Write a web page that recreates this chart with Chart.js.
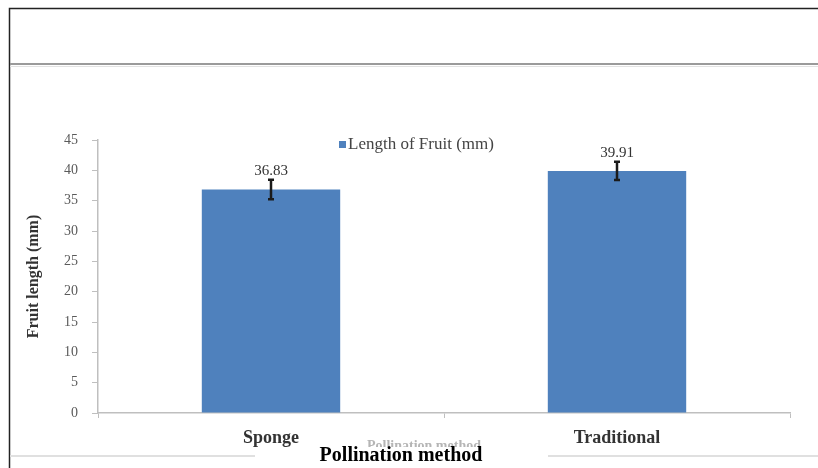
<!DOCTYPE html>
<html>
<head>
<meta charset="utf-8">
<script src="https://cdn.jsdelivr.net/npm/chart.js@4.4.1/dist/chart.umd.min.js"></script>
<style>
	body { margin: 0; background: #ffffff; }
	canvas { display: block; }
</style>
</head>
<body>
<canvas id="graph_length" width="818" height="468"></canvas>
<script>
// data
let methods = ["Sponge", "Traditional"];
let fruitLength = [36.83, 39.91];
let fruitError = [1.6, 1.5];
let yTicks = [0, 5, 10, 15, 20, 25, 30, 35, 40, 45];

const serif = "'Liberation Serif', 'Times New Roman', serif";

// frame, faint scan text, legend, error bars, labels
const framePlugin = {
	id: "framePlugin",
	beforeDraw: function(chart) {
		let ctx = chart.ctx;
		ctx.save();
		ctx.fillStyle = "#ffffff";
		ctx.fillRect(0, 0, chart.width, chart.height);

		// outer box
		ctx.strokeStyle = "#222222";
		ctx.lineWidth = 1.5;
		ctx.beginPath();
		ctx.moveTo(818, 8.5);
		ctx.lineTo(9.5, 8.5);
		ctx.lineTo(9.5, 468);
		ctx.stroke();

		// gray divider
		ctx.strokeStyle = "#9a9a9a";
		ctx.lineWidth = 2;
		ctx.beginPath();
		ctx.moveTo(10, 64);
		ctx.lineTo(818, 64);
		ctx.stroke();
		ctx.strokeStyle = "#e2e2e2";
		ctx.lineWidth = 1;
		ctx.beginPath();
		ctx.moveTo(10, 66.5);
		ctx.lineTo(818, 66.5);
		ctx.stroke();

		// faint text from the scan
		ctx.fillStyle = "#b5b5b5";
		ctx.font = "bold 14px " + serif;
		ctx.textAlign = "center";
		ctx.textBaseline = "middle";
		ctx.fillText("Pollination method", 424, 446);

		// bottom light line
		ctx.strokeStyle = "#e0e0e0";
		ctx.lineWidth = 2;
		ctx.beginPath();
		ctx.moveTo(10, 456);
		ctx.lineTo(818, 456);
		ctx.stroke();

		// white patch behind the axis title
		ctx.fillStyle = "#ffffff";
		ctx.fillRect(255, 447, 293, 21);
		ctx.restore();
	},
	afterDatasetsDraw: function(chart) {
		let ctx = chart.ctx;
		let meta = chart.getDatasetMeta(0);
		let yScale = chart.scales.y;
		ctx.save();
		meta.data.forEach(function(bar, i) {
			let x = bar.x;
			let top = yScale.getPixelForValue(fruitLength[i] + fruitError[i]);
			let bottom = yScale.getPixelForValue(fruitLength[i] - fruitError[i]);
			ctx.strokeStyle = "#1a1a1a";
			ctx.lineWidth = 2.5;
			ctx.beginPath();
			ctx.moveTo(x, top);
			ctx.lineTo(x, bottom);
			ctx.moveTo(x - 3, top);
			ctx.lineTo(x + 3, top);
			ctx.moveTo(x - 3, bottom);
			ctx.lineTo(x + 3, bottom);
			ctx.stroke();

			ctx.fillStyle = "#333333";
			ctx.font = "15px " + serif;
			ctx.textAlign = "center";
			ctx.textBaseline = "bottom";
			ctx.fillText(fruitLength[i].toFixed(2), x, top - 1);
		});

		// legend
		ctx.fillStyle = "#4F81BD";
		ctx.fillRect(339, 141, 7, 7);
		ctx.fillStyle = "#444444";
		ctx.font = "17px " + serif;
		ctx.textAlign = "left";
		ctx.textBaseline = "middle";
		ctx.fillText(chart.data.datasets[0].label, 348, 145);

		// x axis title
		ctx.fillStyle = "#000000";
		ctx.font = "bold 20px " + serif;
		ctx.textAlign = "center";
		ctx.fillText("Pollination method", 401, 456);
		ctx.restore();
	}
};

document.addEventListener("DOMContentLoaded", function() {
	let ctx = document.getElementById("graph_length").getContext("2d");
	new Chart(ctx, {
		type: "bar",
		data: {
			labels: methods,
			datasets: [{
				label: "Length of Fruit (mm)",
				data: fruitLength,
				backgroundColor: "#4F81BD",
				borderWidth: 0,
				barPercentage: 0.4,
				categoryPercentage: 1.0
			}]
		},
		options: {
			responsive: false,
			animation: false,
			layout: {
				padding: { top: 140, right: 28, bottom: 0, left: 0 }
			},
			scales: {
				x: {
					afterFit: function(scale) { scale.height = 55; },
					grid: {
						offset: true,
						drawOnChartArea: false,
						tickLength: 5,
						color: "#bfbfbf"
					},
					border: { color: "#bfbfbf", width: 1.5 },
					ticks: {
						padding: 10,
						color: "#333333",
						font: { family: serif, size: 18, weight: "bold" }
					}
				},
				y: {
					min: 0,
					max: 45,
					afterFit: function(scale) { scale.width = 98; },
					afterBuildTicks: function(scale) {
						scale.ticks = yTicks.map(function(v) { return { value: v }; });
					},
					grid: {
						drawOnChartArea: false,
						tickLength: 6,
						color: "#bfbfbf"
					},
					border: { color: "#bfbfbf", width: 1.5 },
					ticks: {
						padding: 14,
						color: "#5a5a5a",
						font: { family: serif, size: 14 }
					},
					title: {
						display: true,
						text: "Fruit length (mm)",
						color: "#333333",
						font: { family: serif, size: 16, weight: "bold" },
						padding: { top: 24, bottom: 0 }
					}
				}
			},
			plugins: {
				legend: { display: false },
				tooltip: { enabled: false }
			}
		},
		plugins: [framePlugin]
	});
});
</script>
</body>
</html>
